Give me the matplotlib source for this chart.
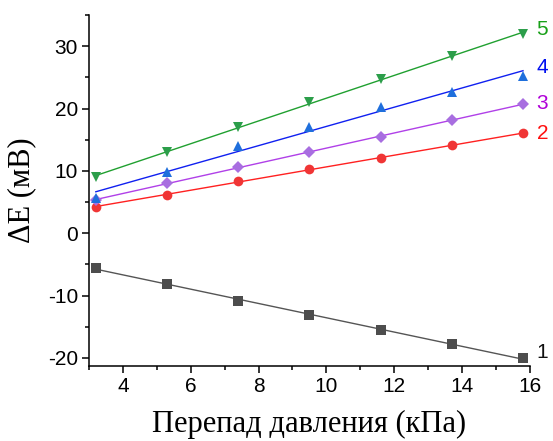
import matplotlib
matplotlib.use("Agg")
import matplotlib.pyplot as plt
import numpy as np
from matplotlib.ticker import MultipleLocator

plt.rcParams["axes.unicode_minus"] = False

# pressure drop, kPa
dp = [3.2, 5.3, 7.4, 9.5, 11.6, 13.7, 15.8]

# delta E, mV for each curve
de1 = [-5.5, -8.2, -10.8, -13.1, -15.5, -17.8, -20.0]
de2 = [4.2, 6.2, 8.3, 10.3, 12.1, 14.1, 16.0]
de3 = [5.3, 8.0, 10.6, 13.1, 15.5, 18.1, 20.7]
de4 = [5.6, 9.8, 14.0, 17.1, 20.2, 22.6, 25.2]
de5 = [9.0, 13.1, 17.0, 21.0, 24.7, 28.4, 32.0]

labels = ["1", "2", "3", "4", "5"]
label_y = [-19.1, 16.0, 20.8, 26.6, 32.6]

series = [de1, de2, de3, de4, de5]
markers = ["s", "o", "D", "^", "v"]
marker_colors = ["#4d4d4d", "#f03535", "#a86ee0", "#1f6fdc", "#2c9e4a"]
line_colors = ["#555555", "#ff2020", "#b040e8", "#1020f0", "#20a030"]
text_colors = ["#111111", "#ff1010", "#b000d8", "#0010f0", "#18a018"]
msizes = [6.5, 7, 6, 7.5, 7.5]

fig = plt.figure(figsize=(5.53, 4.41), dpi=100)
ax = fig.add_axes([0.161, 0.170, 0.797, 0.796])

x = np.array(dp)
for y, m, mc, lc, ms in zip(series, markers, marker_colors, line_colors, msizes):
    k, b = np.polyfit(x, y, 1)
    ax.plot([x[0], x[-1]], [k * x[0] + b, k * x[-1] + b], color=lc, lw=1, zorder=2)
    ax.plot(x, y, ls="none", marker=m, color=mc, ms=ms, mew=0, zorder=3)

for lab, ly, tc in zip(labels, label_y, text_colors):
    ax.text(16.2, ly, lab, color=tc, fontsize=15, family="Liberation Sans",
            va="center", ha="left", clip_on=False)

ax.set_xlim(3, 16)
ax.set_ylim(-21.3, 35)
ax.xaxis.set_major_locator(MultipleLocator(2))
ax.xaxis.set_minor_locator(MultipleLocator(1))
ax.yaxis.set_major_locator(MultipleLocator(10))
ax.yaxis.set_minor_locator(MultipleLocator(5))
ax.spines["top"].set_visible(False)
ax.spines["right"].set_visible(False)
for s in ["left", "bottom"]:
    ax.spines[s].set_linewidth(1.1)
ax.tick_params(which="major", direction="out", length=5, width=1.1, labelsize=15, pad=3)
ax.tick_params(which="minor", direction="out", length=3, width=1.1)
for t in ax.get_xticklabels() + ax.get_yticklabels():
    t.set_family("Liberation Sans")

ax.set_xlabel("Перепад давления (кПа)", family="Liberation Serif", fontsize=22, labelpad=10)
ax.set_ylabel("ΔE (мВ)", family="Liberation Serif", fontsize=22, labelpad=8)

fig.savefig("out.png", dpi=100)
